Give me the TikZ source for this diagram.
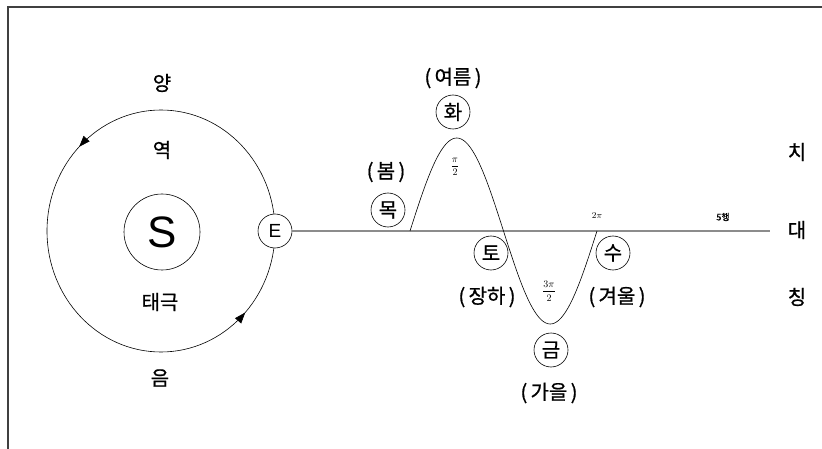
\documentclass[tikz,border=0pt]{standalone}
\usepackage{fontspec}
\setmainfont{Noto Sans CJK KR}[FakeBold=0.8]
\newfontfamily\latinsans{Liberation Sans}
\usetikzlibrary{decorations.markings,arrows.meta}
\begin{document}
\begin{tikzpicture}[x=1pt,y=1pt,
  frameline/.style={draw=black!75,line width=1.4pt},
  kr/.style={font=\fontsize{20}{21}\selectfont,inner sep=0pt},
  elem/.style={circle,draw,line width=0.6pt,fill=white,minimum size=34pt,inner sep=0pt,font=\fontsize{20}{21}\selectfont},
  small/.style={font=\fontsize{9}{10}\selectfont,inner sep=0pt},
  frac/.style={font=\fontsize{10}{11}\selectfont,inner sep=0pt},
  orbit/.style={line width=0.6pt,postaction={decorate},decoration={markings,
     mark=at position 0.375 with {\arrow{Triangle[length=11pt,width=8pt]}},
     mark=at position 0.88 with {\arrow{Triangle[length=11pt,width=8pt]}}}},
  axisline/.style={draw=black!45,line width=1.6pt},
  wave/.style={line width=0.6pt}
]
\useasboundingbox (0,0) rectangle (822,-449);
\draw[frameline] (8,-449) -- (8,-7) -- (822,-7);

% orbit
\coordinate (oc) at (161,-231);
\draw[orbit] (oc) ellipse [x radius=114pt, y radius=121pt];
\node[circle,draw,line width=0.6pt,minimum size=76pt,inner sep=0pt,font=\latinsans\fontsize{44}{44}\selectfont] (S) at (162,-232) {S};
\node[circle,draw,line width=0.6pt,fill=white,minimum size=34pt,inner sep=0pt,font=\latinsans\fontsize{19}{20}\selectfont] (E) at (275,-231) {E};

\node[kr] (yang) at (162,-83) {양};
\node[kr] (yeok) at (162,-150) {역};
\node[kr] (taeguk) at (160,-302) {태극};
\node[kr] (eum) at (160,-378) {음};

% axis
\coordinate (axend) at (770,-231);
\draw[axisline] (E.east) -- (axend);

% wave
\draw[wave] plot[domain=0:360,samples=120,smooth] ({410+\x/360*187},{-231+93*sin(\x)});

% elements
\node[elem] (mok) at (388,-210) {목};
\node[kr] (bom) at (386,-172) {(\,봄\,)};
\node[elem] (hwa) at (453,-112) {화};
\node[kr] (yeoreum) at (453,-78) {(\,여름\,)};
\node[frac] (pihalf) at (455,-167) {$\displaystyle\frac{\pi}{2}$};
\node[elem] (to) at (491,-253) {토};
\node[kr] (jangha) at (487,-297) {(\,장하\,)};
\node[frac] (threepi) at (549,-291) {$\displaystyle\frac{3\pi}{2}$};
\node[elem] (geum) at (551,-350) {금};
\node[kr] (gaeul) at (549,-393) {(\,가을\,)};
\node[small] (twopi) at (597,-216) {$2\pi$};
\node[elem] (su) at (613,-253) {수};
\node[kr] (gyeoul) at (617,-297) {(\,겨울\,)};
\node[small] (ohaeng) at (723,-217) {5행};

\node[kr] (chi) at (797,-152) {치};
\node[kr] (dae) at (797,-230) {대};
\node[kr] (ching) at (797,-297) {칭};
\end{tikzpicture}
\end{document}
